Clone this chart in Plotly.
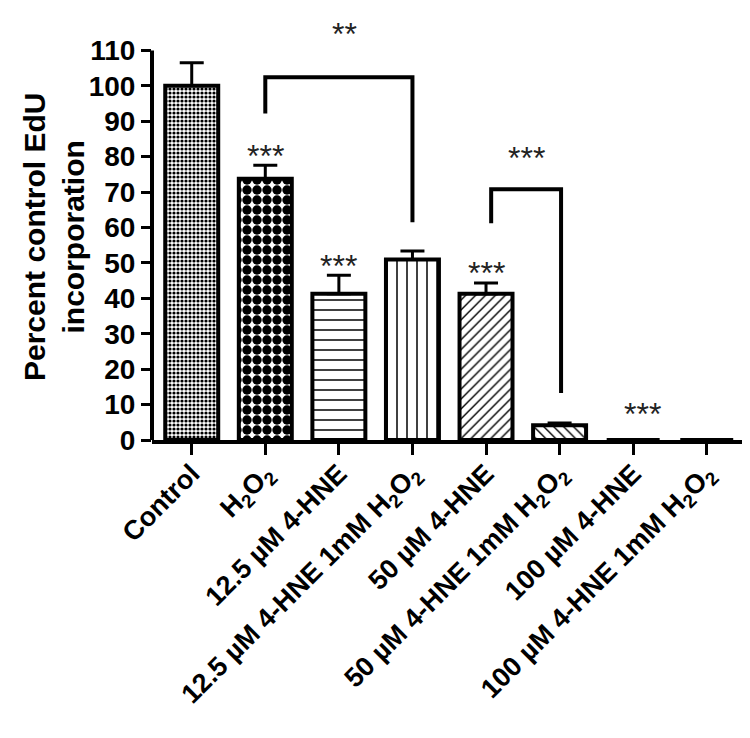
import plotly.graph_objects as go

categories = [
    "Control",
    "H<sub>2</sub>O<sub>2</sub>",
    "12.5 µM 4-HNE",
    "12.5 µM 4-HNE 1mM H<sub>2</sub>O<sub>2</sub>",
    "50 µM 4-HNE",
    "50 µM 4-HNE 1mM H<sub>2</sub>O<sub>2</sub>",
    "100 µM 4-HNE",
    "100 µM 4-HNE 1mM H<sub>2</sub>O<sub>2</sub>",
]
values = [100, 73.8, 41.3, 51.0, 41.3, 4.2, 0, 0]
errors = [6.5, 3.8, 5.2, 2.4, 3.0, 0.6, 0, 0]
patterns = [".", ".", "-", "|", "/", "\\", "", ""]
pattern_sizes = [4, 10, 10, 10, 7, 7, 8, 8]
pattern_solid = [0.5, 0.7, 0.15, 0.15, 0.2, 0.2, 0.3, 0.3]

# significance marks: (x, y, text)
stars = [
    (1, 82.5, "***"),
    (2, 51.5, "***"),
    (4, 49.5, "***"),
    (6.12, 9.5, "***"),
    (2.08, 117, "**"),
    (4.55, 82, "***"),
]
# brackets: (x_left, y_left_end, x_right, y_right_end, y_top)
brackets = [
    (1, 92.2, 3, 61.5, 102.4),
    (4.07, 61.2, 5.02, 13.3, 70.8),
]

x = list(range(len(categories)))
font_family = "Liberation Sans, Arial, sans-serif"

fig = go.Figure()
fig.add_trace(go.Bar(
    x=x, y=values, width=0.72,
    marker=dict(
        color="white",
        line=dict(color="black", width=4),
        pattern=dict(shape=patterns, size=pattern_sizes, solidity=pattern_solid,
                     fgcolor="black", bgcolor="white", fgopacity=1),
    ),
    error_y=dict(type="data", symmetric=False, array=errors,
                 arrayminus=[0] * len(errors), color="black", thickness=3, width=12),
    showlegend=False,
))

for xl, yl, xr, yr, yt in brackets:
    fig.add_trace(go.Scatter(
        x=[xl, xl, xr, xr], y=[yl, yt, yt, yr], mode="lines",
        line=dict(color="black", width=4), showlegend=False, hoverinfo="skip",
    ))

for sx, sy, st in stars:
    fig.add_annotation(x=sx, y=sy, text=st, showarrow=False, yshift=-8,
                       font=dict(family=font_family, size=32, color="#222"))

# y axis title
fig.add_annotation(xref="paper", yref="paper", x=-0.165, y=0.478,
                   text="Percent control EdU<br>incorporation", textangle=-90,
                   showarrow=False, xanchor="center", yanchor="middle",
                   font=dict(family=font_family, size=30, weight="bold", color="black"))

# y axis line only up to 110
fig.add_shape(type="line", xref="paper", yref="y", x0=0, x1=0, y0=0, y1=110,
              line=dict(color="black", width=4))

fig.update_layout(
    width=750, height=738,
    margin=dict(l=144, r=13, t=7, b=306),
    plot_bgcolor="white", paper_bgcolor="white",
    font=dict(family=font_family, color="black"),
    xaxis=dict(
        range=[-0.54, 7.52], tickvals=x, ticktext=categories, tickangle=-45,
        showline=True, linecolor="black", linewidth=4,
        ticks="outside", ticklen=11, tickwidth=3, tickcolor="black",
        ticklabelstandoff=-8,
        tickfont=dict(size=27, weight="bold"), showgrid=False, zeroline=False,
    ),
    yaxis=dict(
        range=[0, 120], tickvals=list(range(0, 111, 10)),
        showline=False, ticks="outside", ticklen=10, tickwidth=3, tickcolor="black",
        tickfont=dict(size=28, weight="bold"), showgrid=False, zeroline=False,
    ),
)

fig.write_html("out.html")
